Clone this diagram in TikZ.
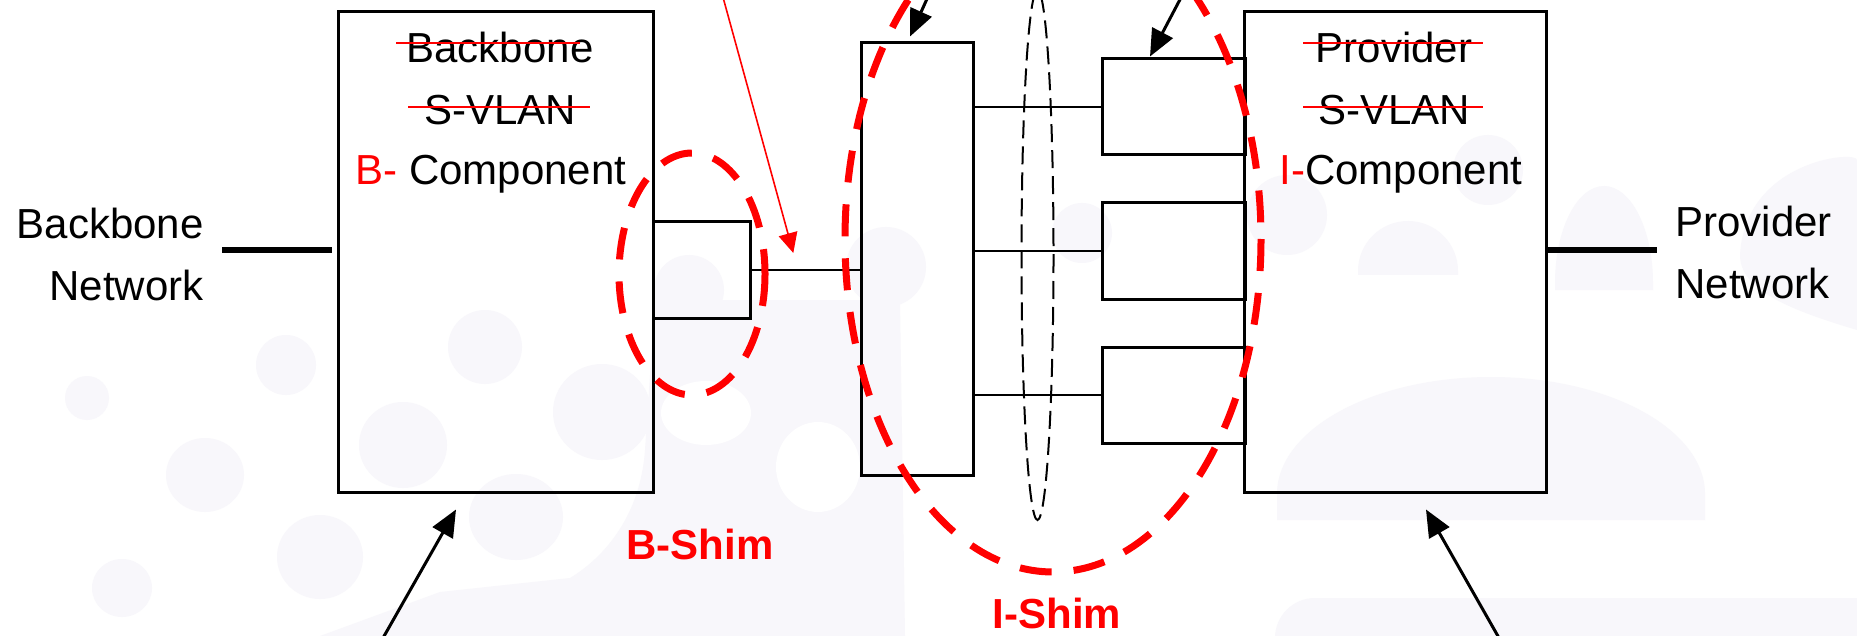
\documentclass[tikz,border=0pt]{standalone}
\usepackage{fontspec}
\setmainfont{Liberation Sans}
\usetikzlibrary{arrows.meta,calc}
\definecolor{shimred}{RGB}{255,0,0}
\definecolor{wm}{RGB}{248,247,251}
\begin{document}
\begin{tikzpicture}[x=0.5pt,y=-0.5pt,
  box/.style={draw=black, line width=1.5pt, inner sep=0pt},
  wire/.style={line width=1.4pt},
  netline/.style={line width=2.8pt},
  lbl/.style={font=\fontsize{21}{31}\selectfont, inner sep=0pt},
  shim/.style={draw=shimred, line width=3.5pt, dash pattern=on 16pt off 11pt},
  shimlbl/.style={font=\fontsize{21}{25}\selectfont\bfseries, text=shimred, inner sep=0pt},
  strike/.style={draw=shimred, line width=0.8pt},
  ptr/.style={line width=1.5pt, -{Triangle[length=13.5pt,width=11.5pt]}},
  redptr/.style={draw=shimred, fill=shimred, line width=0.8pt, -{Triangle[length=10pt,width=9.5pt]}},
  gdash/.style={draw=black, line width=1pt, dash pattern=on 9pt off 4pt}
]
\useasboundingbox (0,0) rectangle (1857,636);
\clip (0,0) rectangle (1857,636);
\fill[white] (0,0) rectangle (1857,636);
% faint watermark
\fill[wm] (320,636) -- (440,592) -- (570,578) .. controls (600,560) and (640,520) .. (645,450) -- (655,300) -- (900,300) -- (905,636) -- cycle;
\fill[white] (706,413) ellipse [x radius=45, y radius=32];
\fill[white] (818,467) ellipse [x radius=42, y radius=45];
\foreach \cx/\cy/\ra/\rb in {87/398/22/22, 286/365/30/30, 205/475/39/37, 403/445/44/43, 485/347/37/37, 320/557/43/42, 122/588/30/29, 602/412/49/48, 516/517/47/43, 1082/233/30/30, 886/267/40/40, 689/290/35/35, 1488/170/35/35, 1287/215/40/40}
  \fill[wm] (\cx,\cy) ellipse [x radius=\ra, y radius=\rb];
\fill[wm] (1277,520) -- (1277,494) arc[start angle=180,end angle=360,x radius=214,y radius=117] -- (1705,520) -- cycle;
\fill[wm] (1358,275) -- (1358,271) arc[start angle=180,end angle=360,x radius=50,y radius=50] -- (1458,275) -- cycle;
\fill[wm] (1555,290) -- (1555,283) arc[start angle=180,end angle=360,x radius=49,y radius=97] -- (1653,290) -- cycle;
\fill[wm] (1740,255) .. controls (1745,160) and (1857,150) .. (1857,160) -- (1857,330) .. controls (1790,310) and (1740,290) .. (1740,255) -- cycle;
\fill[wm, rounded corners=20pt] (1275,598) rectangle (1900,700);

% components
\node[box, minimum width=157.5pt, minimum height=240pt] (bcomp) at (495.5,252) {};
\node[box, minimum width=151pt, minimum height=240pt] (icomp) at (1395,252) {};
\node[box, minimum width=56pt, minimum height=216pt] (mid) at (917,259) {};
\node[box, minimum width=48.5pt, minimum height=48pt] (bport) at (701.5,270) {};
\node[box, minimum width=71.5pt, minimum height=48pt] (ip1) at (1173.5,107) {};
\node[box, minimum width=71.5pt, minimum height=48pt] (ip2) at (1173.5,251) {};
\node[box, minimum width=71.5pt, minimum height=48pt] (ip3) at (1173.5,395) {};

% wires
\draw[wire] (bport.east) -- (bport.east -| mid.west) coordinate[pos=0.387] (wtip);
\draw[wire] (ip1.west -| mid.east) -- (ip1.west);
\draw[wire] (ip2.west -| mid.east) -- (ip2.west);
\draw[wire] (ip3.west -| mid.east) -- (ip3.west);

% texts in the components
\node[lbl, anchor=base] (bt1) at (500,63) {Backbone};
\node[lbl, anchor=base] (bt2) at (500,125) {S-VLAN};
\node[lbl, anchor=base] (bt3) at (491,185) {{\color{shimred}B-} Component};
\node[lbl, anchor=base] (it1) at (1394,63) {Provider};
\node[lbl, anchor=base] (it2) at (1394,125) {S-VLAN};
\node[lbl, anchor=base] (it3) at (1401,185) {{\color{shimred}I-}Component};
\draw[strike] (396,43) -- (580,43);
\draw[strike] (408,107) -- (590,107);
\draw[strike] (1303,43) -- (1483,43);
\draw[strike] (1303,107) -- (1483,107);

% networks
\node[lbl, align=right, anchor=east] (bnet) at (204,254) {Backbone\\Network};
\node[lbl, align=left, anchor=west] (pnet) at (1675,252) {Provider\\Network};
\draw[netline] (bnet.east |- 0,250) ++(18,0) -- ([xshift=-2.5pt]bcomp.west |- 0,250);
\draw[netline] (icomp.east |- 0,250) -- ([xshift=-9pt]pnet.west |- 0,250);

% shims
\draw[shim] (692,274) ellipse [x radius=73, y radius=121];
\draw[shim] (1053,239) ellipse [x radius=208, y radius=333];
\draw[gdash] (1037.5,255) ellipse [x radius=16, y radius=265];
\node[shimlbl] (bshim) at (700,544) {B-Shim};
\node[shimlbl] (ishim) at (1057,613) {I-Shim};

% pointers
\coordinate (p1) at (931,-10);
\coordinate (p2) at (1185,-10);
\coordinate (p3) at (721,-10);
\coordinate (p4) at (379,645);
\coordinate (p5) at (1503,645);
\draw[ptr] (p1) -- ([xshift=-3.5pt,yshift=2.5pt]mid.north);
\draw[ptr] (p2) -- ([xshift=-11.75pt,yshift=0.5pt]ip1.north);
\draw[redptr] (p3) -- ([yshift=8.5pt]wtip);
\draw[ptr] (p4) -- ([xshift=-19.75pt,yshift=-8pt]bcomp.south);
\draw[ptr] (p5) -- ([xshift=15.5pt,yshift=-8pt]icomp.south);
\end{tikzpicture}
\end{document}
